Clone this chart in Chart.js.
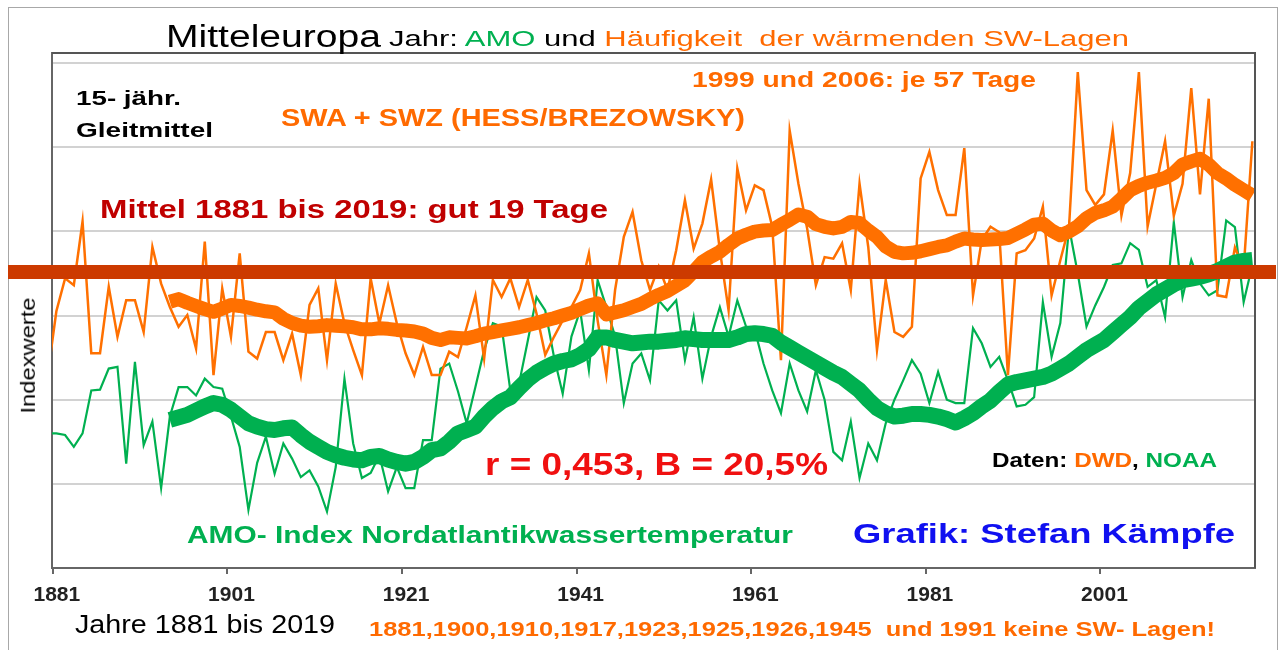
<!DOCTYPE html>
<html>
<head>
<meta charset="utf-8">
<script src="https://cdn.jsdelivr.net/npm/chart.js@4.4.1/dist/chart.umd.min.js"></script>
<style>
html, body { margin: 0; padding: 0; background: #fff; }
#wrap { position: relative; width: 1286px; height: 650px; overflow: hidden; font-family: 'Liberation Sans', Arial, sans-serif; }
#frame { position: absolute; left: 8px; top: 7px; width: 1270px; height: 660px; border: 1.5px solid #a8a8a8; box-sizing: border-box; }
canvas { position: absolute; left: 0; top: 0; }
.t { position: absolute; white-space: nowrap; line-height: 1; transform-origin: 0 50%; }
</style>
</head>
<body>
<div id="wrap">
  <div id="frame"></div>
  <canvas id="chart-sw" width="1286" height="650"></canvas>
</div>
<script>
orange = '#ff7000'
orangeText = '#ff6a00'
gruen = '#00b050'
rotMittel = '#cc3a00'

startJahr = 1881
gleitStart = 1895
mittelTage = 19.4
xTickJahre = [1881, 1901, 1921, 1941, 1961, 1981, 2001]
gridStufen = [0, 1, 2, 3, 4, 5, 6]

// SWA + SWZ Tage pro Jahr, 1881..2019
swTage = [
    0, 12, 18.2, 16.9, 28.9, 4.1, 4.1, 16.6, 7.2, 14.1,
    14.1, 8.1, 24.1, 17.2, 12.8, 9.1, 11.3, 5.0, 25.1, 0,
    16.3, 7.2, 22.9, 4.4, 3.1, 8.1, 8.1, 2.8, 7.8, 0,
    13.2, 16.3, 2.8, 17.2, 9.7, 4.7, 0, 18.2, 9.7, 16.9,
    9.7, 4.1, 0, 5.3, 0, 0, 4.4, 3.4, 9, 15.0,
    3.1, 17.9, 14.7, 18.2, 12.8, 17.9, 11.6, 3.8, 7.2, 10.3,
    12.8, 16.0, 22.9, 10.3, 0, 16.0, 26.0, 30.7, 21.6, 16.0,
    20.4, 16.0, 23.5, 32.9, 23.8, 28.5, 36.8, 23.5, 12.2, 38.9,
    31.0, 35.7, 34.8, 27.9, 2.8, 46, 36.0, 27.6, 16.9, 22.2,
    21.9, 24.8, 16.0, 36.0, 24.1, 4.7, 17.9, 8.1, 7.2, 9.1,
    37.0, 42.0, 34.8, 30.1, 30.1, 42.7, 15.0, 25.4, 27.9, 26.9,
    0, 22.9, 23.5, 25.7, 31.7, 15.0, 21.6, 27.9, 57, 34.8,
    32, 34, 46, 30, 38, 57, 28, 36, 44, 30,
    36, 54, 34, 52, 15, 14.7, 24, 20, 44
]

// AMO Index (Indexwerte), 1881..2019
amoIndex = [
    1.60, 1.60, 1.58, 1.44, 1.60, 2.11, 2.12, 2.37, 2.39, 1.24,
    2.45, 1.46, 1.74, 0.95, 1.80, 2.15, 2.15, 2.05, 2.25, 2.15,
    2.13, 1.80, 1.44, 0.69, 1.25, 1.56, 1.12, 1.48, 1.30, 1.08,
    1.16, 0.97, 0.67, 1.20, 2.25, 1.48, 1.07, 1.13, 1.34, 0.91,
    1.20, 0.95, 0.95, 1.52, 1.52, 2.37, 2.43, 2.10, 1.72, 2.15,
    2.59, 2.91, 2.87, 2.11, 2.19, 2.70, 3.22, 3.06, 2.51, 2.07,
    2.75, 3.06, 2.35, 3.42, 3.10, 2.75, 1.96, 2.43, 2.55, 2.23,
    3.18, 3.06, 3.18, 2.47, 2.98, 2.25, 2.75, 3.10, 2.75, 3.18,
    2.87, 2.83, 2.43, 2.11, 1.84, 2.43, 2.11, 1.86, 2.35, 2.00,
    1.38, 1.28, 1.74, 1.07, 1.48, 1.28, 1.72, 2.00, 2.23, 2.47,
    2.31, 1.96, 2.33, 2.00, 1.96, 1.96, 2.85, 2.67, 2.39, 2.51,
    2.23, 1.92, 1.94, 2.03, 3.16, 2.51, 2.91, 4.05, 3.50, 2.87,
    3.12, 3.34, 3.60, 3.62, 3.86, 3.78, 3.34, 3.42, 2.98, 4.11,
    3.22, 3.66, 3.38, 3.24, 3.30, 4.13, 4.05, 3.16, 3.60
]

// 15-jaehriges Gleitmittel, 1895..2019
swGleit = [
    13.8, 14.3, 13.6, 13.0, 12.4, 11.9, 12.5, 13.2, 13.0, 12.7,
    12.3, 12.0, 11.8, 10.6, 9.8, 9.3, 9.1, 9.2, 9.4, 9.3,
    9.2, 9.0, 8.6, 8.6, 8.8, 8.7, 8.5, 8.4, 8.2, 7.8,
    7.0, 6.6, 7.1, 7.0, 6.9, 7.3, 7.8, 8.1, 8.4, 8.7,
    9.0, 9.4, 9.8, 10.3, 10.7, 11.2, 11.7, 12.4, 13.1, 13.5,
    11.4, 11.8, 12.2, 12.8, 13.4, 14.3, 15.1, 15.8, 16.8, 17.8,
    19.5, 21.3, 22.3, 23.2, 24.5, 25.7, 26.4, 27.0, 27.2, 27.3,
    28.3, 29.2, 30.2, 29.8, 28.4, 27.9, 27.6, 27.9, 28.8, 28.6,
    27.2, 26.0, 24.2, 23.2, 22.9, 23.0, 23.3, 23.7, 24.1, 24.4,
    25.1, 25.7, 25.5, 25.4, 25.5, 25.6, 25.8, 26.6, 27.4, 28.3,
    28.5, 27.2, 26.3, 27.0, 28.0, 29.5, 30.5, 31.0, 31.7, 33.2,
    34.8, 35.6, 36.2, 36.6, 37.1, 38.0, 39.6, 40.2, 40.7, 39.6,
    38.0, 37.0, 35.8, 34.8, 33.8
]

amoGleit = [
    1.76, 1.79, 1.82, 1.87, 1.92, 1.96, 1.94, 1.88, 1.80, 1.72,
    1.68, 1.65, 1.64, 1.66, 1.67, 1.58, 1.50, 1.44, 1.38, 1.34,
    1.31, 1.29, 1.28, 1.32, 1.33, 1.29, 1.26, 1.24, 1.26, 1.32,
    1.40, 1.42, 1.50, 1.60, 1.64, 1.68, 1.80, 1.90, 1.98, 2.03,
    2.14, 2.24, 2.32, 2.38, 2.43, 2.46, 2.48, 2.53, 2.60, 2.74,
    2.74, 2.71, 2.69, 2.67, 2.68, 2.69, 2.69, 2.70, 2.71, 2.73,
    2.72, 2.71, 2.71, 2.71, 2.71, 2.74, 2.78, 2.79, 2.78, 2.76,
    2.68, 2.62, 2.56, 2.50, 2.44, 2.38, 2.32, 2.27, 2.19, 2.11,
    2.00, 1.90, 1.84, 1.80, 1.81, 1.83, 1.83, 1.82, 1.80, 1.77,
    1.73, 1.78, 1.84, 1.92, 1.99, 2.09, 2.18, 2.21, 2.23, 2.25,
    2.27, 2.31, 2.37, 2.43, 2.51, 2.59, 2.65, 2.71, 2.80, 2.89,
    2.98, 3.09, 3.17, 3.25, 3.31, 3.37, 3.42, 3.44, 3.46, 3.49,
    3.53, 3.58, 3.63, 3.65, 3.66
]

function punkte(werte, ab) {
    return werte.map((v, i) => ({ x: ab + i, y: v }))
}

// texts: x = left, b = baseline, w = target width (stretched with scaleX)
texte = [
    { h: 'Mitteleuropa', x: 166, b: 47, w: 215, fs: 31, fw: 400, c: '#000' },
    { h: 'Jahr: <span style="color:' + gruen + '">AMO</span> und <span style="color:' + orangeText + '">Häufigkeit&nbsp; der wärmenden SW-Lagen</span>', x: 389, b: 47, w: 740, fs: 22, fw: 400, c: '#000' },
    { h: '15- jähr.', x: 76, b: 105, w: 105, fs: 21, fw: 700, c: '#000' },
    { h: 'Gleitmittel', x: 76, b: 137, w: 137, fs: 21, fw: 700, c: '#000' },
    { h: 'SWA + SWZ (HESS/BREZOWSKY)', x: 281, b: 127, w: 464, fs: 23, fw: 700, c: orangeText },
    { h: '1999 und 2006: je 57 Tage', x: 692, b: 88, w: 344, fs: 22, fw: 700, c: orangeText },
    { h: 'Mittel 1881 bis 2019: gut 19 Tage', x: 100, b: 218, w: 508, fs: 26, fw: 700, c: '#c00000' },
    { h: 'r = 0,453, B = 20,5%', x: 485, b: 475, w: 343, fs: 32, fw: 700, c: '#f01010' },
    { h: 'Daten: <span style="color:' + orangeText + '">DWD</span>, <span style="color:' + gruen + '">NOAA</span>', x: 992, b: 467, w: 225, fs: 20, fw: 700, c: '#000' },
    { h: 'AMO- Index Nordatlantikwassertemperatur', x: 187, b: 544, w: 606, fs: 23, fw: 700, c: gruen },
    { h: 'Grafik: Stefan Kämpfe', x: 853, b: 544, w: 382, fs: 28, fw: 700, c: '#1010f0' },
    { h: 'Jahre 1881 bis 2019', x: 75, b: 633, w: 260, fs: 25, fw: 400, c: '#000' },
    { h: '1881,1900,1910,1917,1923,1925,1926,1945&nbsp; und 1991 keine SW- Lagen!', x: 369, b: 636, w: 846, fs: 20, fw: 700, c: orangeText }
]

function setzeTexte() {
    const wrap = document.getElementById('wrap')
    texte.forEach(t => {
        const el = document.createElement('div')
        el.className = 't'
        el.innerHTML = t.h
        el.style.fontSize = t.fs + 'px'
        el.style.fontWeight = t.fw
        el.style.color = t.c
        el.style.left = t.x + 'px'
        el.style.top = (t.b - 0.85 * t.fs) + 'px'
        wrap.appendChild(el)
        const natural = el.getBoundingClientRect().width
        el.style.transform = 'scaleX(' + (t.w / natural) + ')'
    })

    // rotated axis title
    const ax = document.createElement('div')
    ax.className = 't'
    ax.textContent = 'Indexwerte'
    ax.style.fontSize = '21px'
    ax.style.color = '#000'
    ax.style.transformOrigin = '50% 50%'
    wrap.appendChild(ax)
    const r = ax.getBoundingClientRect()
    ax.style.left = (27 - r.width / 2) + 'px'
    ax.style.top = (355 - r.height / 2) + 'px'
    ax.style.transform = 'rotate(-90deg) scaleX(' + (116 / r.width) + ')'
}

const rahmenUndMittel = {
    id: 'rahmenUndMittel',
    afterDatasetsDraw(chart) {
        const ctx = chart.ctx
        const a = chart.chartArea
        const y = chart.scales.yTage.getPixelForValue(mittelTage)
        ctx.save()
        ctx.strokeStyle = '#555'
        ctx.lineWidth = 2
        ctx.beginPath()
        ctx.moveTo(a.left, a.top)
        ctx.lineTo(a.right, a.top)
        ctx.lineTo(a.right, a.bottom)
        ctx.stroke()
        ctx.strokeStyle = rotMittel
        ctx.lineWidth = 14
        ctx.beginPath()
        ctx.moveTo(8, y)
        ctx.lineTo(1276, y)
        ctx.stroke()
        ctx.restore()
    }
}

Chart.defaults.font.family = "'Liberation Sans', Arial, sans-serif"

const chartSw = new Chart(document.getElementById('chart-sw'), {
    type: 'line',
    data: {
        datasets: [{
            label: 'SWA + SWZ Gleitmittel',
            data: punkte(swGleit, gleitStart),
            yAxisID: 'yTage',
            borderColor: orange,
            borderWidth: 14,
            borderJoinStyle: 'round',
            order: 1
        }, {
            label: 'AMO Gleitmittel',
            data: punkte(amoGleit, gleitStart),
            yAxisID: 'y',
            borderColor: gruen,
            borderWidth: 16,
            borderJoinStyle: 'round',
            order: 2
        }, {
            label: 'SWA + SWZ',
            data: punkte(swTage, startJahr),
            yAxisID: 'yTage',
            borderColor: orange,
            borderWidth: 2.5,
            order: 3
        }, {
            label: 'AMO',
            data: punkte(amoIndex, startJahr),
            yAxisID: 'y',
            borderColor: gruen,
            borderWidth: 2.2,
            order: 4
        }]
    },
    options: {
        responsive: false,
        animation: false,
        devicePixelRatio: 1,
        clip: 0,
        elements: { point: { radius: 0 }, line: { tension: 0 } },
        layout: { padding: { left: 52, top: 53, right: 31, bottom: 0 } },
        plugins: { legend: { display: false }, tooltip: { enabled: false } },
        scales: {
            x: {
                type: 'linear',
                min: 1881.5,
                max: 2019.3,
                afterBuildTicks: s => { s.ticks = xTickJahre.map(v => ({ value: v + 0.6 })) },
                afterFit: s => { s.height = 82 },
                ticks: {
                    callback: v => Math.round(v - 0.6),
                    font: { size: 21, weight: 'bold' },
                    color: '#222',
                    labelOffset: 4,
                    padding: 9,
                    maxRotation: 0,
                    autoSkip: false
                },
                grid: { drawOnChartArea: false, drawTicks: true, tickLength: 6, color: '#666', lineWidth: 2 },
                border: { color: '#666', width: 2 }
            },
            y: {
                min: 0,
                max: 6.12,
                afterBuildTicks: s => { s.ticks = gridStufen.map(v => ({ value: v })) },
                afterFit: s => { s.width = 0 },
                ticks: { display: false },
                grid: { color: '#d2d2d2', lineWidth: 2, drawTicks: false },
                border: { color: '#666', width: 2 }
            },
            yTage: {
                display: false,
                min: -36.3,
                max: 60.6
            }
        }
    },
    plugins: [rahmenUndMittel]
})

setzeTexte()
</script>
</body>
</html>
